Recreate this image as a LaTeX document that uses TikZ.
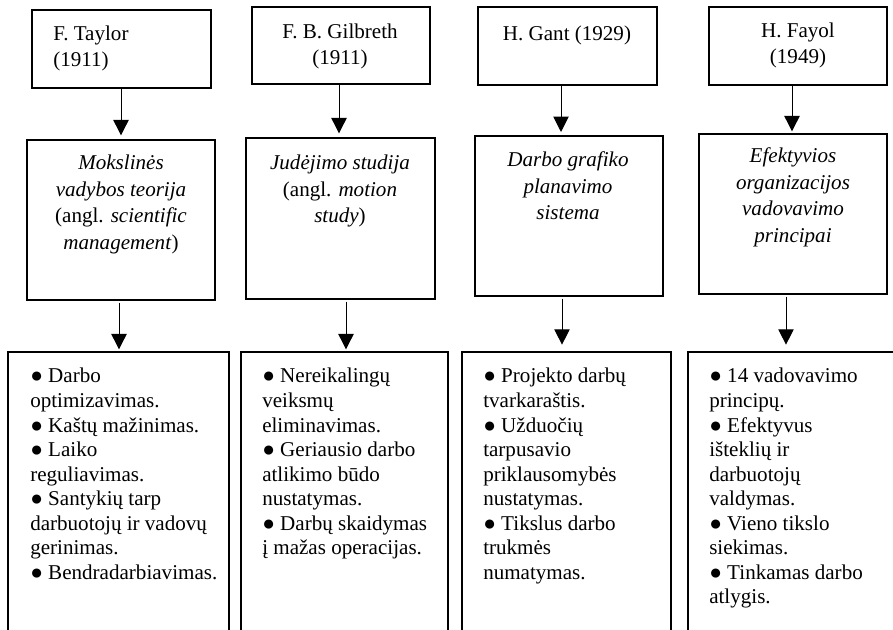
\documentclass[tikz,border=0pt]{standalone}
\usepackage{fontspec}
\setmainfont{Liberation Serif}
\usetikzlibrary{arrows.meta,fit,calc}
% text blocks whose reference point is the baseline of their first line
\newcommand\txtleft[2]{\parbox[t]{260pt}{\fontsize{15.8}{#1}\selectfont\raggedright #2}}
\newcommand\txtmid[2]{\parbox[t]{260pt}{\fontsize{15.8}{#1}\selectfont\centering #2}}
\begin{document}
\begin{tikzpicture}[x=0.75pt,y=-0.75pt,
  box/.style={draw, inner sep=0pt, line width=1pt},
  headbox/.style={box, line width=2.2pt},
  arr/.style={-{Triangle[width=11.5pt,length=11.5pt]}, line width=0.75pt},
  lbl/.style={inner sep=0pt}
]
\useasboundingbox (0,0) rectangle (893,630);
\clip (0,0) rectangle (893,630);

% authors
\node[headbox, fit={(32,10) (211,88)}] (t1) {};
\node[headbox, fit={(252,7) (430,84)}] (t2) {};
\node[headbox, fit={(478,7) (657,85)}] (t3) {};
\node[headbox, fit={(709,7) (887,85)}] (t4) {};

% theories
\node[box, fit={(27,140) (215,300)}] (m1) {};
\node[box, fit={(246,138) (435,299)}] (m2) {};
\node[box, fit={(475,136) (663,296)}] (m3) {};
\node[box, fit={(699,134) (887,294)}] (m4) {};

% features (open at the bottom)
\node[box, fit={(8,352) (229,680)}] (b1) {};
\node[box, fit={(241,352) (448,680)}] (b2) {};
\node[box, fit={(462,352) (671,680)}] (b3) {};
\node[box, fit={(688,352) (900,680)}] (b4) {};

% labels of the author boxes
\node[lbl, anchor=base west] (t1txt) at (53,41) {\txtleft{19.1pt}{F. Taylor\\(1911)}};
\node[lbl, anchor=base] (t2txt) at (340,39) {\txtmid{19.1pt}{F. B. Gilbreth\\(1911)}};
\node[lbl, anchor=base] (t3txt) at (567,41) {\txtmid{19.1pt}{H. Gant (1929)}};
\node[lbl, anchor=base] (t4txt) at (798,38) {\txtmid{19.1pt}{H. Fayol\\(1949)}};

% labels of the theory boxes
\node[lbl, anchor=base] (m1txt) at (121,170) {\txtmid{19.8pt}{\textit{Mokslinės}\\\textit{vadybos teorija}\\(angl. \textit{scientific}\\\textit{management})}};
\node[lbl, anchor=base] (m2txt) at (340,170) {\txtmid{19.8pt}{\textit{Judėjimo studija}\\(angl. \textit{motion}\\\textit{study})}};
\node[lbl, anchor=base] (m3txt) at (568,167) {\txtmid{19.8pt}{\textit{Darbo grafiko}\\\textit{planavimo}\\\textit{sistema}}};
\node[lbl, anchor=base] (m4txt) at (793,163) {\txtmid{19.8pt}{\textit{Efektyvios}\\\textit{organizacijos}\\\textit{vadovavimo}\\\textit{principai}}};

% feature lists
\node[lbl, anchor=base west] (b1txt) at (30,383) {\txtleft{18.4pt}{● Darbo\\optimizavimas.\\● Kaštų mažinimas.\\● Laiko\\reguliavimas.\\● Santykių tarp\\darbuotojų ir vadovų\\gerinimas.\\● Bendradarbiavimas.}};
\node[lbl, anchor=base west] (b2txt) at (262,383) {\txtleft{18.4pt}{● Nereikalingų\\veiksmų\\eliminavimas.\\● Geriausio darbo\\atlikimo būdo\\nustatymas.\\● Darbų skaidymas\\į mažas operacijas.}};
\node[lbl, anchor=base west] (b3txt) at (483,383) {\txtleft{18.4pt}{● Projekto darbų\\tvarkaraštis.\\● Užduočių\\tarpusavio\\priklausomybės\\nustatymas.\\● Tikslus darbo\\trukmės\\numatymas.}};
\node[lbl, anchor=base west] (b4txt) at (709,383) {\txtleft{18.4pt}{● 14 vadovavimo\\principų.\\● Efektyvus\\išteklių ir\\darbuotojų\\valdymas.\\● Vieno tikslo\\siekimas.\\● Tinkamas darbo\\atlygis.}};

% author -> theory
\draw[arr, shorten >=3pt] ($(t1.south)+(-0.5,0)$) -- ($(t1.south |- m1.north)+(-0.5,0)$);
\draw[arr, shorten >=3pt] ($(t2.south)+(-2,0)$) -- ($(t2.south |- m2.north)+(-2,0)$);
\draw[arr, shorten >=2.5pt] ($(t3.south)+(-6.5,0)$) -- ($(t3.south |- m3.north)+(-6.5,0)$);
\draw[arr, shorten >=1.5pt] ($(t4.south)+(-6,0)$) -- ($(t4.south |- m4.north)+(-6,0)$);

% theory -> features
\draw[arr, shorten <=1.5pt, shorten >=1.5pt] ($(m1.south)+(-2,0)$) -- ($(m1.south |- b1.north)+(-2,0)$);
\draw[arr, shorten <=1.5pt, shorten >=1.5pt] ($(m2.south)+(5.5,0)$) -- ($(m2.south |- b2.north)+(5.5,0)$);
\draw[arr, shorten <=1.5pt, shorten >=5pt] ($(m3.south)+(-7,0)$) -- ($(m3.south |- b3.north)+(-7,0)$);
\draw[arr, shorten <=1.5pt, shorten >=5pt] ($(m4.south)+(-7,0)$) -- ($(m4.south |- b4.north)+(-7,0)$);
\end{tikzpicture}
\end{document}
